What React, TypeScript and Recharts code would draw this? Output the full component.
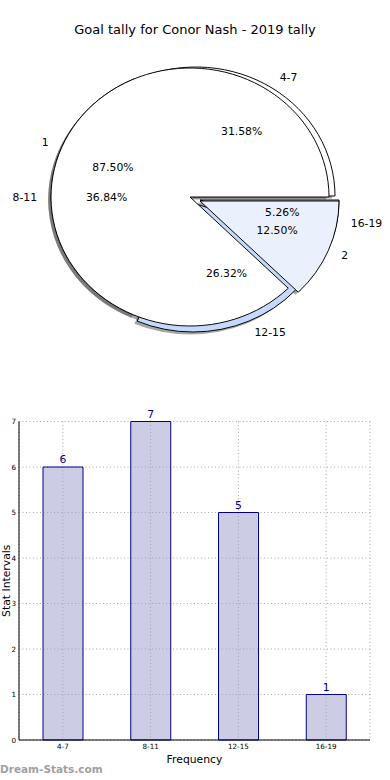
import { PieChart, Pie, Cell, BarChart, Bar, XAxis, YAxis, CartesianGrid, LabelList } from "recharts";

// chart values
const categories = ["4-7", "8-11", "12-15", "16-19"];
const counts = [6, 7, 5, 1];
const splitNames = ["1", "2"];
const splitCounts = [7, 1];
const yTicks = [0, 1, 2, 3, 4, 5, 6, 7];

const title = "Goal tally for Conor Nash - 2019 tally";

// pie geometry (matplotlib axes were not square, so the pie is squashed)
const CX = 190;
const CY = 197;
const RX = 139;
const RY = 129;
const KY = RY / RX;

const outerColors = ["#ffffff", "#ffffff", "#c6d9fb", "#eaf1fd"];
const innerColors = ["#ffffff", "#eaf1fd"];
// explode offsets in screen px
const outerOffsets = [[6, -1], [0, 0], [3, 6], [10, 3]];
const innerOffsets = [[0, 0], [10, 4]];

const outerData = categories.map((name, i) => ({ name, value: counts[i] }));
const innerData = splitNames.map((name, i) => ({ name, value: splitCounts[i] }));
const barData = categories.map((name, i) => ({ name, count: counts[i] }));

const slicePies = (key: string, data: any[], colors: string[], offsets: number[][], shadow: boolean) =>
  data.map((_, i) => {
    const dx = offsets[i][0] + (shadow ? -2.8 : 0);
    const dy = offsets[i][1] + (shadow ? 2.6 : 0);
    return (
      <Pie
        key={key + i}
        data={data}
        dataKey="value"
        cx={CX + dx}
        cy={CY + dy / KY}
        outerRadius={RX}
        startAngle={0}
        endAngle={360}
        isAnimationActive={false}
        labelLine={false}
      >
        {data.map((d, j) => (
          <Cell
            key={d.name}
            fill={j !== i ? "none" : shadow ? "#4d4d4d" : colors[j]}
            fillOpacity={shadow ? 0.5 : 1}
            stroke={j === i && !shadow ? "#000" : "none"}
            strokeWidth={1}
          />
        ))}
      </Pie>
    );
  });

const pieLabel = (names: string[], offsets: number[][]) => (props: any) => {
  const { midAngle, percent, index } = props;
  const rad = (midAngle * Math.PI) / 180;
  const c = Math.cos(rad);
  const s = Math.sin(rad);
  const cx = CX + offsets[index][0];
  const cy = CY + offsets[index][1];
  return (
    <g key={"lbl" + names[index]}>
      <text x={cx + 1.1 * RX * c} y={cy - 1.1 * RY * s} textAnchor={c >= 0 ? "start" : "end"} dominantBaseline="central" fontSize={10.8} fill="#000">
        {names[index]}
      </text>
      <text x={cx + 0.6 * RX * c} y={cy - 0.6 * RY * s} textAnchor="middle" dominantBaseline="central" fontSize={10.8} fill="#000">
        {(percent * 100).toFixed(2)}%
      </text>
    </g>
  );
};

const NAVY = "#00008b";

export default function App() {
  return (
    <div style={{ position: "absolute", left: 0, top: 0, width: 390, height: 780, background: "#fff", overflow: "hidden", fontFamily: "DejaVu Sans" }}>
      <div style={{ position: "absolute", left: 0, top: 23, width: 390, textAlign: "center", fontSize: 13, lineHeight: "14px", color: "#000" }}>
        {title}
      </div>

      {/* pie shapes, squashed vertically */}
      <div style={{ position: "absolute", left: 0, top: 0, width: 390, height: 394, transform: `scaleY(${KY})`, transformOrigin: `${CX}px ${CY}px` }}>
        <PieChart width={390} height={394} margin={{ top: 0, right: 0, bottom: 0, left: 0 }}>
          {slicePies("so", outerData, outerColors, outerOffsets, true)}
          {slicePies("si", innerData, innerColors, innerOffsets, true)}
          {slicePies("o", outerData, outerColors, outerOffsets, false)}
          {slicePies("i", innerData, innerColors, innerOffsets, false)}
        </PieChart>
      </div>

      {/* pie labels, not squashed */}
      <div style={{ position: "absolute", left: 0, top: 0, width: 390, height: 394 }}>
        <PieChart width={390} height={394} margin={{ top: 0, right: 0, bottom: 0, left: 0 }}>
          <Pie data={outerData} dataKey="value" cx={CX} cy={CY} outerRadius={RX} startAngle={0} endAngle={360} isAnimationActive={false} fill="none" stroke="none" labelLine={false} label={pieLabel(categories, outerOffsets)} />
          <Pie data={innerData} dataKey="value" cx={CX} cy={CY} outerRadius={RX} startAngle={0} endAngle={360} isAnimationActive={false} fill="none" stroke="none" labelLine={false} label={pieLabel(splitNames, innerOffsets)} />
        </PieChart>
      </div>

      <div style={{ position: "absolute", left: 0, top: 400 }}>
        <BarChart width={390} height={380} data={barData} margin={{ top: 21.5, right: 20, bottom: 0, left: 0 }} barSize={40}>
          <CartesianGrid stroke="#a8a8a8" strokeDasharray="1 2.5" />
          <XAxis
            dataKey="name"
            height={40}
            tick={{ fontSize: 7.2, fill: "#000" }}
            tickLine={false}
            tickSize={3}
            tickMargin={1}
            axisLine={{ stroke: "#000" }}
            label={{
              value: "Frequency",
              content: ({ viewBox }: any) => (
                <text x={viewBox.x + viewBox.width / 2} y={viewBox.y + 23} textAnchor="middle" fontSize={10.8} fill="#000">
                  Frequency
                </text>
              ),
            }}
          />
          <XAxis xAxisId="top" orientation="top" dataKey="name" height={0} tick={false} tickLine={false} axisLine={{ stroke: "#000" }} />
          <YAxis
            width={19}
            domain={[0, 7]}
            ticks={yTicks}
            interval={0}
            tick={{ fontSize: 7.2, fill: "#000" }}
            tickLine={false}
            tickSize={3}
            tickMargin={0}
            axisLine={{ stroke: "#000" }}
            label={{
              value: "Stat Intervals",
              content: ({ viewBox }: any) => {
                const y = viewBox.y + viewBox.height / 2;
                return (
                  <text x={10} y={y} transform={`rotate(-90, 10, ${y})`} textAnchor="middle" fontSize={10.8} fill="#000">
                    Stat Intervals
                  </text>
                );
              },
            }}
          />
          <YAxis yAxisId="right" orientation="right" width={0} domain={[0, 7]} tick={false} tickLine={false} axisLine={{ stroke: "#000" }} />
          <Bar dataKey="count" fill="#9999c9" fillOpacity={0.5} stroke={NAVY} strokeWidth={1} isAnimationActive={false}>
            <LabelList dataKey="count" position="top" offset={4} fill={NAVY} fontSize={10.8} />
          </Bar>
        </BarChart>
      </div>

      <div style={{ position: "absolute", left: 0, top: 762, fontSize: 10.5, fontWeight: "bold", lineHeight: "14px", color: "#a0a0a0" }}>Dream-Stats.com</div>
    </div>
  );
}
